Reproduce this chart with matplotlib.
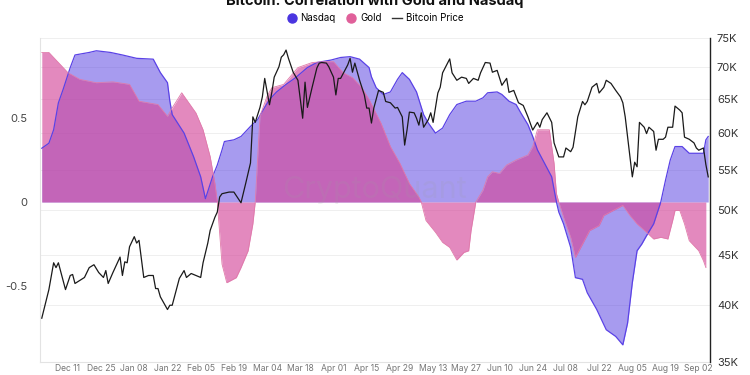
import matplotlib
matplotlib.use("Agg")
import matplotlib.pyplot as plt
import matplotlib.dates as mdates
from matplotlib.lines import Line2D
from matplotlib.ticker import FixedLocator, NullLocator, FuncFormatter
from matplotlib.transforms import blended_transform_factory
import pandas as pd

plt.rcParams['font.family'] = ['Inter', 'DejaVu Sans']

# rolling correlation of BTC with Nasdaq
nasdaq_dates = [
    "2023-11-30", "2023-12-03", "2023-12-05", "2023-12-07", "2023-12-09", "2023-12-12",
    "2023-12-14", "2023-12-20", "2023-12-23", "2023-12-29", "2024-01-03", "2024-01-09",
    "2024-01-16", "2024-01-19", "2024-01-22", "2024-01-23", "2024-01-24", "2024-01-29",
    "2024-02-02", "2024-02-05", "2024-02-07", "2024-02-10", "2024-02-12", "2024-02-14",
    "2024-02-15", "2024-02-19", "2024-02-22", "2024-02-26", "2024-02-29", "2024-03-02",
    "2024-03-05", "2024-03-08", "2024-03-12", "2024-03-16", "2024-03-21", "2024-03-25",
    "2024-03-31", "2024-04-04", "2024-04-08", "2024-04-12", "2024-04-16", "2024-04-17",
    "2024-04-19", "2024-04-22", "2024-04-25", "2024-04-28", "2024-04-30", "2024-05-03",
    "2024-05-06", "2024-05-09", "2024-05-11", "2024-05-14", "2024-05-17", "2024-05-20",
    "2024-05-23", "2024-05-27", "2024-05-31", "2024-06-03", "2024-06-05", "2024-06-09",
    "2024-06-11", "2024-06-14", "2024-06-17", "2024-06-19", "2024-06-22", "2024-06-24",
    "2024-06-26", "2024-06-29", "2024-07-02", "2024-07-04", "2024-07-05", "2024-07-07",
    "2024-07-10", "2024-07-12", "2024-07-15", "2024-07-17", "2024-07-21", "2024-07-25",
    "2024-07-29", "2024-08-01", "2024-08-03", "2024-08-05", "2024-08-07", "2024-08-09",
    "2024-08-11", "2024-08-14", "2024-08-17", "2024-08-19", "2024-08-21", "2024-08-23",
    "2024-08-26", "2024-08-29", "2024-09-02", "2024-09-04", "2024-09-05", "2024-09-06",
]
nasdaq_corr = [
    0.32, 0.35, 0.43, 0.59, 0.67, 0.80,
    0.875, 0.89, 0.90, 0.89, 0.875, 0.855,
    0.85, 0.77, 0.71, 0.60, 0.52, 0.41,
    0.27, 0.15, 0.02, 0.15, 0.22, 0.31,
    0.36, 0.37, 0.39, 0.45, 0.49, 0.54,
    0.61, 0.655, 0.70, 0.74, 0.80, 0.83,
    0.845, 0.86, 0.865, 0.85, 0.80, 0.745,
    0.68, 0.64, 0.655, 0.73, 0.77, 0.73,
    0.655, 0.52, 0.47, 0.41, 0.44, 0.52,
    0.58, 0.60, 0.60, 0.62, 0.65, 0.655,
    0.64, 0.60, 0.58, 0.53, 0.46, 0.39,
    0.31, 0.23, 0.15, 0.0, -0.06, -0.13,
    -0.27, -0.45, -0.46, -0.54, -0.64, -0.76,
    -0.80, -0.85, -0.72, -0.48, -0.29, -0.25,
    -0.20, -0.13, 0.0, 0.13, 0.25, 0.33,
    0.33, 0.29, 0.29, 0.29, 0.37, 0.39,
]

# rolling correlation of BTC with Gold
gold_dates = [
    "2023-11-30", "2023-12-03", "2023-12-08", "2023-12-11", "2023-12-16", "2023-12-23",
    "2023-12-30", "2024-01-06", "2024-01-10", "2024-01-18", "2024-01-22", "2024-01-24",
    "2024-01-28", "2024-02-03", "2024-02-06", "2024-02-09", "2024-02-11", "2024-02-12",
    "2024-02-14", "2024-02-16", "2024-02-20", "2024-02-22", "2024-02-25", "2024-02-27",
    "2024-02-28", "2024-03-01", "2024-03-04", "2024-03-06", "2024-03-11", "2024-03-17",
    "2024-03-23", "2024-03-28", "2024-04-01", "2024-04-05", "2024-04-09", "2024-04-13",
    "2024-04-16", "2024-04-21", "2024-04-25", "2024-04-29", "2024-05-03", "2024-05-07",
    "2024-05-08", "2024-05-10", "2024-05-14", "2024-05-17", "2024-05-20", "2024-05-23",
    "2024-05-26", "2024-05-28", "2024-05-29", "2024-05-31", "2024-06-03", "2024-06-05",
    "2024-06-07", "2024-06-10", "2024-06-13", "2024-06-17", "2024-06-22", "2024-06-24",
    "2024-06-26", "2024-06-28", "2024-07-01", "2024-07-03", "2024-07-04", "2024-07-05",
    "2024-07-07", "2024-07-10", "2024-07-12", "2024-07-15", "2024-07-18", "2024-07-22",
    "2024-07-24", "2024-07-28", "2024-08-01", "2024-08-04", "2024-08-07", "2024-08-11",
    "2024-08-14", "2024-08-17", "2024-08-20", "2024-08-22", "2024-08-23", "2024-08-25",
    "2024-08-27", "2024-08-29", "2024-09-02", "2024-09-04", "2024-09-05",
]
gold_corr = [
    0.89, 0.89, 0.815, 0.77, 0.73, 0.71,
    0.715, 0.70, 0.60, 0.58, 0.51, 0.56,
    0.65, 0.53, 0.43, 0.27, 0.11, 0.0,
    -0.37, -0.48, -0.45, -0.39, -0.29, -0.13,
    0.0, 0.51, 0.63, 0.68, 0.70, 0.80,
    0.83, 0.835, 0.835, 0.77, 0.74, 0.68,
    0.61, 0.47, 0.33, 0.23, 0.11, 0.03,
    0.0, -0.11, -0.18, -0.24, -0.27, -0.345,
    -0.30, -0.29, -0.17, 0.0, 0.07, 0.15,
    0.18, 0.17, 0.22, 0.25, 0.28, 0.33,
    0.43, 0.43, 0.43, 0.23, 0.05, 0.0,
    -0.09, -0.21, -0.33, -0.25, -0.17, -0.14,
    -0.08, -0.05, -0.02, -0.08, -0.13, -0.18,
    -0.22, -0.21, -0.22, -0.11, -0.05, -0.05,
    -0.13, -0.23, -0.29, -0.35, -0.39,
]

# bitcoin price, thousands of USD
btc_dates = [
    "2023-11-30", "2023-12-03", "2023-12-05", "2023-12-06", "2023-12-07", "2023-12-09",
    "2023-12-10", "2023-12-12", "2023-12-13", "2023-12-14", "2023-12-16", "2023-12-18",
    "2023-12-20", "2023-12-22", "2023-12-24", "2023-12-26", "2023-12-27", "2023-12-28",
    "2023-12-30", "2024-01-02", "2024-01-03", "2024-01-04", "2024-01-05", "2024-01-06",
    "2024-01-08", "2024-01-09", "2024-01-10", "2024-01-12", "2024-01-14", "2024-01-16",
    "2024-01-17", "2024-01-18", "2024-01-19", "2024-01-22", "2024-01-23", "2024-01-24",
    "2024-01-26", "2024-01-27", "2024-01-29", "2024-01-30", "2024-02-01", "2024-02-05",
    "2024-02-06", "2024-02-08", "2024-02-09", "2024-02-11", "2024-02-12", "2024-02-13",
    "2024-02-14", "2024-02-17", "2024-02-19", "2024-02-22", "2024-02-24", "2024-02-26",
    "2024-02-27", "2024-02-28", "2024-03-01", "2024-03-02", "2024-03-03", "2024-03-05",
    "2024-03-06", "2024-03-07", "2024-03-09", "2024-03-10", "2024-03-11", "2024-03-12",
    "2024-03-13", "2024-03-15", "2024-03-17", "2024-03-19", "2024-03-20", "2024-03-21",
    "2024-03-23", "2024-03-25", "2024-03-26", "2024-03-27", "2024-03-29", "2024-03-30",
    "2024-04-01", "2024-04-02", "2024-04-03", "2024-04-04", "2024-04-07", "2024-04-08",
    "2024-04-09", "2024-04-10", "2024-04-12", "2024-04-14", "2024-04-15", "2024-04-16",
    "2024-04-17", "2024-04-18", "2024-04-20", "2024-04-22", "2024-04-23", "2024-04-25",
    "2024-04-27", "2024-04-28", "2024-04-30", "2024-05-01", "2024-05-02", "2024-05-03",
    "2024-05-05", "2024-05-06", "2024-05-07", "2024-05-08", "2024-05-09", "2024-05-11",
    "2024-05-12", "2024-05-13", "2024-05-15", "2024-05-16", "2024-05-17", "2024-05-20",
    "2024-05-21", "2024-05-23", "2024-05-25", "2024-05-27", "2024-05-28", "2024-05-30",
    "2024-06-01", "2024-06-02", "2024-06-04", "2024-06-06", "2024-06-07", "2024-06-09",
    "2024-06-11", "2024-06-13", "2024-06-14", "2024-06-16", "2024-06-18", "2024-06-20",
    "2024-06-22", "2024-06-24", "2024-06-26", "2024-06-27", "2024-06-28", "2024-06-30",
    "2024-07-02", "2024-07-03", "2024-07-05", "2024-07-07", "2024-07-08", "2024-07-10",
    "2024-07-11", "2024-07-13", "2024-07-15", "2024-07-16", "2024-07-17", "2024-07-19",
    "2024-07-21", "2024-07-22", "2024-07-24", "2024-07-25", "2024-07-27", "2024-07-29",
    "2024-07-31", "2024-08-01", "2024-08-02", "2024-08-03", "2024-08-05", "2024-08-06",
    "2024-08-07", "2024-08-08", "2024-08-10", "2024-08-11", "2024-08-12", "2024-08-14",
    "2024-08-15", "2024-08-16", "2024-08-18", "2024-08-19", "2024-08-20", "2024-08-22",
    "2024-08-23", "2024-08-25", "2024-08-26", "2024-08-27", "2024-08-29", "2024-08-31",
    "2024-09-01", "2024-09-02", "2024-09-04", "2024-09-05", "2024-09-06",
]
btc_price = [
    38.8, 41.5, 44.2, 43.7, 44.2, 42.4,
    41.5, 42.9, 43.0, 42.1, 42.4, 42.7,
    43.7, 44.0, 43.2, 42.7, 43.4, 42.1,
    43.2, 44.8, 42.9, 44.3, 44.2, 45.9,
    47.0, 46.3, 46.6, 42.7, 42.9, 42.9,
    41.6, 41.6, 40.8, 39.6, 40.0, 40.0,
    41.7, 42.6, 43.4, 42.7, 43.1, 42.7,
    44.2, 46.3, 47.7, 49.2, 49.8, 51.6,
    52.0, 52.2, 52.2, 50.9, 53.3, 55.9,
    62.3, 61.5, 63.7, 65.3, 68.2, 64.1,
    66.0, 68.4, 70.1, 71.7, 72.1, 72.9,
    71.5, 69.2, 67.9, 62.1, 67.6, 63.7,
    66.8, 69.9, 70.7, 70.8, 70.7, 70.1,
    68.4, 65.6, 68.2, 68.2, 70.4, 71.5,
    69.2, 70.7, 67.9, 65.6, 63.6, 63.6,
    61.4, 63.6, 66.3, 66.0, 64.6, 64.4,
    63.6, 63.7, 62.3, 58.3, 60.4, 63.0,
    62.9, 62.1, 61.1, 62.9, 60.8, 61.9,
    62.9, 61.5, 65.9, 66.8, 69.1, 71.4,
    69.1, 67.9, 68.4, 68.2, 67.4, 68.2,
    67.9, 69.1, 70.8, 70.7, 69.2, 69.5,
    67.1, 68.2, 66.0, 66.3, 64.4, 64.0,
    62.3, 60.4, 61.5, 60.8, 61.9, 62.9,
    61.5, 58.6, 56.7, 56.7, 57.9, 57.4,
    58.0, 62.3, 64.6, 64.1, 64.6, 66.8,
    67.4, 65.9, 66.8, 67.9, 67.4, 66.3,
    65.3, 64.4, 62.3, 59.4, 54.1, 56.0,
    55.4, 61.5, 60.8, 59.9, 60.8, 60.2,
    57.6, 59.1, 59.1, 59.4, 60.8, 60.8,
    63.9, 63.3, 62.9, 59.4, 59.1, 58.6,
    57.9, 57.6, 57.9, 55.7, 54.1,
]

price_ticks = [35, 40, 45, 50, 55, 60, 65, 70, 75]
corr_ticks = [-0.5, 0, 0.5]
tick_start, tick_end = "2023-12-11", "2024-09-02"

nd = pd.to_datetime(nasdaq_dates)
gd = pd.to_datetime(gold_dates)
bd = pd.to_datetime(btc_dates)

fig = plt.figure(figsize=(7.5, 3.75), dpi=100)
ax = fig.add_axes([40 / 750, 13 / 375, 670 / 750, 324 / 375])
ax2 = ax.twinx()

ax.fill_between(nd, 0, nasdaq_corr, color='#5039e1', alpha=0.5, lw=0)
ax.plot(nd, nasdaq_corr, color='#5a42e6', lw=0.9)
ax.fill_between(gd, 0, gold_corr, color='#d4479a', alpha=0.64, lw=0)
ax.plot(gd, gold_corr, color='#e07aaa', lw=0.6)

ax2.plot(bd, btc_price, color='#1a1a1a', lw=0.9)
ax2.set_yscale('log')
ax2.set_ylim(35, 75)

# faint grid at the price ticks, kept behind the fills
gtr = blended_transform_factory(ax.transAxes, ax2.transData)
for p in price_ticks:
    ax.plot([0, 1], [p, p], transform=gtr, color='#efefef', lw=0.7, zorder=0)

ax.set_ylim(-0.952, 0.976)
ax.set_xlim(pd.Timestamp("2023-11-29 06:00"), pd.Timestamp("2024-09-06 18:00"))

ax.yaxis.set_major_locator(FixedLocator(corr_ticks))
ax.yaxis.set_major_formatter(FuncFormatter(lambda v, p: '0' if v == 0 else f'{v:g}'))
ax.xaxis.set_major_locator(FixedLocator(mdates.date2num(pd.date_range(tick_start, tick_end, freq='14D'))))
ax.xaxis.set_major_formatter(mdates.DateFormatter('%b %d'))
ax.tick_params(axis='x', length=0, pad=1.5, labelsize=6.2, labelcolor='#777777')
ax.tick_params(axis='y', length=0, pad=9, labelsize=8, labelcolor='#444444')

ax2.yaxis.set_major_locator(FixedLocator(price_ticks))
ax2.yaxis.set_minor_locator(NullLocator())
ax2.yaxis.set_major_formatter(FuncFormatter(lambda v, p: f'{v:g}K'))
ax2.tick_params(axis='y', length=0, pad=5, labelsize=8, labelcolor='#333333')

ax.spines['top'].set_visible(False)
ax2.spines['top'].set_visible(False)
ax.spines['right'].set_visible(False)
ax.spines['left'].set_color('#e3e3e3')
ax.spines['bottom'].set_color('#e3e3e3')
ax2.spines['left'].set_visible(False)
ax2.spines['bottom'].set_visible(False)
ax2.spines['right'].set_color('#222222')
ax2.spines['right'].set_linewidth(1.0)

ax.text(0.5, 0.53, 'CryptoQuant', transform=ax.transAxes, ha='center', va='center',
        fontsize=22, color='#a0a0a0', alpha=0.15, zorder=5)

fig.text(0.5, 0.988, 'Bitcoin: Correlation with Gold and Nasdaq', ha='center', va='baseline',
         fontsize=10.5, fontweight='bold', color='#111111')

handles = [
    Line2D([], [], marker='o', ls='', markersize=6.5, color='#4a35e0'),
    Line2D([], [], marker='o', ls='', markersize=6.5, color='#e0609a'),
    Line2D([], [], color='#333333', lw=1),
]
fig.legend(handles, ['Nasdaq', 'Gold', 'Bitcoin Price'], loc='center', bbox_to_anchor=(0.5, 0.952),
           ncol=3, frameon=False, fontsize=7, handlelength=1.0, handletextpad=0.4,
           columnspacing=1.1)

fig.savefig('out.png', dpi=100)
